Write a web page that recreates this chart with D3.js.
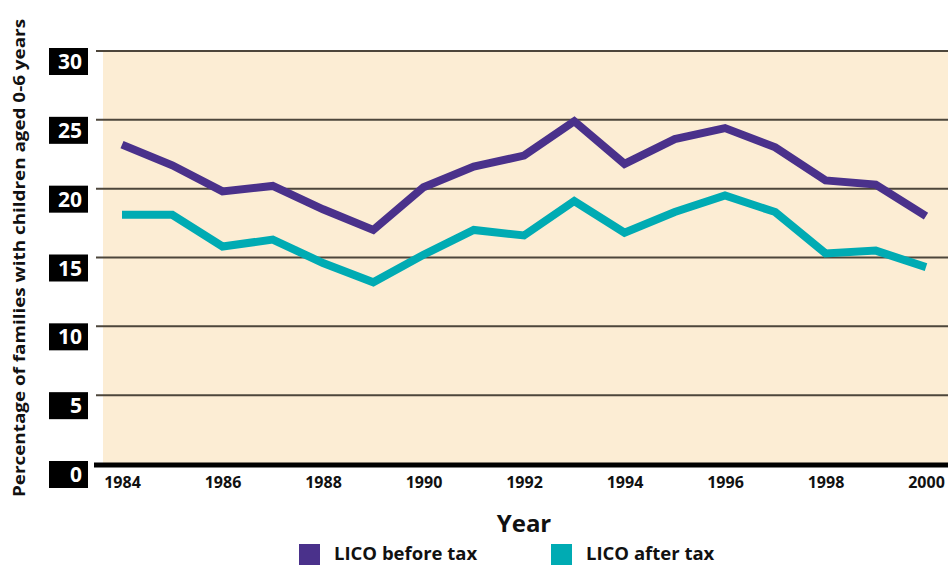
<!DOCTYPE html>
<head>
<meta charset="utf-8">
<script src="https://d3js.org/d3.v7.min.js"></script>
<style>
  body { margin: 0; background: #fff; }
  text { font-family: "Open Sans", sans-serif; font-weight: bold; }
</style>
</head>
<body>
<div id="chart"></div>
<script>
// data
var years = [1984,1985,1986,1987,1988,1989,1990,1991,1992,1993,1994,1995,1996,1997,1998,1999,2000];
var beforeTax = [23.2,21.7,19.8,20.2,18.5,17.0,20.1,21.6,22.4,24.9,21.8,23.6,24.4,23.0,20.6,20.3,18.0];
var afterTax  = [18.1,18.1,15.8,16.3,14.6,13.2,15.2,17.0,16.6,19.1,16.8,18.3,19.5,18.3,15.3,15.5,14.3];
var xTicks = [1984,1986,1988,1990,1992,1994,1996,1998,2000];
var yTicks = [0,5,10,15,20,25,30];
var seriesNames = ["LICO before tax", "LICO after tax"];
var colors = ["#4a318b", "#00abb3"];

var width = 948, height = 565;

var svg = d3.select("#chart").append("svg")
    .attr("width", width)
    .attr("height", height);

var x = d3.scaleLinear().domain([1984, 2000]).range([122, 926]);
var y = d3.scaleLinear().domain([0, 30]).range([464, 51]);

// plot background
svg.append("rect")
    .attr("x", 103).attr("y", y(30))
    .attr("width", width - 103).attr("height", y(0) - y(30))
    .style("fill", "#fcedd4");

// gridlines
svg.append("g").selectAll("line")
    .data(yTicks.filter(function(d) { return d > 0; }))
    .enter().append("line")
      .attr("x1", 96).attr("x2", width)
      .attr("y1", function(d) { return y(d); })
      .attr("y2", function(d) { return y(d); })
      .style("stroke", "#4d463b")
      .style("stroke-width", 2);

// y labels in black boxes
var yl = svg.append("g").selectAll("g")
    .data(yTicks)
    .enter().append("g")
      .attr("transform", function(d) { return "translate(0," + y(d) + ")"; });
yl.append("rect")
    .attr("x", 49).attr("y", -3)
    .attr("width", 39).attr("height", 27)
    .style("fill", "#000");
yl.append("text")
    .attr("x", 82).attr("y", 18)
    .style("text-anchor", "end")
    .style("font-size", "21px")
    .style("fill", "#fff")
    .text(function(d) { return d; });

// lines
var line = d3.line()
    .x(function(d) { return x(d[0]); })
    .y(function(d) { return y(d[1]); });

[beforeTax, afterTax].forEach(function(vals, i) {
  svg.append("path")
      .datum(d3.zip(years, vals))
      .attr("d", line)
      .style("fill", "none")
      .style("stroke", colors[i])
      .style("stroke-width", 8)
      .style("stroke-linejoin", "miter");
});

// x axis
var xAxis = svg.append("g")
    .attr("transform", "translate(0," + y(0) + ")")
    .call(d3.axisBottom(x).tickValues(xTicks).tickSize(0).tickFormat(d3.format("d")));
xAxis.select(".domain").remove();
xAxis.selectAll("text")
    .attr("y", 24).attr("dy", 0)
    .style("font-family", "'Open Sans', sans-serif")
    .style("font-weight", "bold")
    .style("font-size", "16px")
    .style("fill", "#111");

svg.append("line")
    .attr("x1", 94).attr("x2", width)
    .attr("y1", y(0) + 1).attr("y2", y(0) + 1)
    .style("stroke", "#000")
    .style("stroke-width", 5);

// axis titles
svg.append("text")
    .attr("x", 524).attr("y", 532)
    .style("text-anchor", "middle")
    .style("font-size", "24px")
    .style("fill", "#111")
    .text("Year");

svg.append("text")
    .attr("transform", "translate(25,258) rotate(-90)")
    .style("text-anchor", "middle")
    .style("font-size", "16px")
    .style("fill", "#111")
    .attr("textLength", 478)
    .attr("lengthAdjust", "spacingAndGlyphs")
    .text("Percentage of families with children aged 0-6 years");

// legend
var legendX = [299, 551];
var lg = svg.append("g").selectAll("g")
    .data(seriesNames)
    .enter().append("g")
      .attr("transform", function(d, i) { return "translate(" + legendX[i] + ",544)"; });
lg.append("rect")
    .attr("width", 21).attr("height", 21)
    .style("fill", function(d, i) { return colors[i]; });
lg.append("text")
    .attr("x", 35).attr("y", 16)
    .style("font-size", "18.5px")
    .style("fill", "#111")
    .text(function(d) { return d; });
</script>
</body>
